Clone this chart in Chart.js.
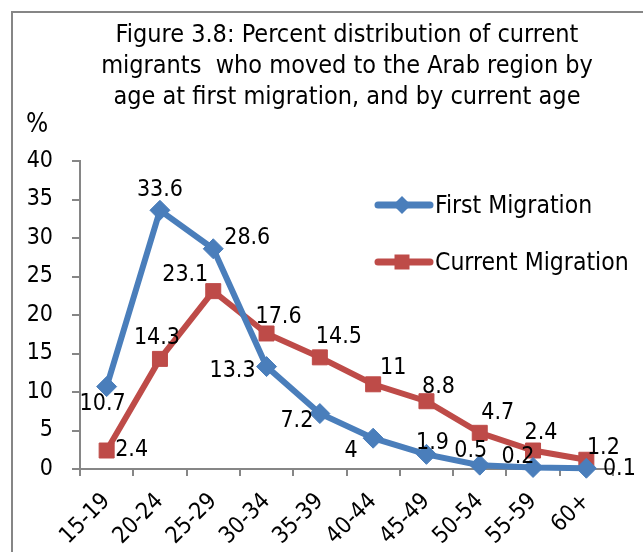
<!DOCTYPE html>
<html lang="en">
<head>
<meta charset="UTF-8" />
<title>Figure 3.8</title>
<script src="https://cdn.jsdelivr.net/npm/chart.js@4"></script>
<style>
  body { margin: 0; background: white; }
  .chart-box { position: relative; width: 643px; height: 552px; }
</style>
</head>
<body>
<div class="chart-box"><canvas id="chart"></canvas></div>
<script>
  const ageGroups = ["15-19", "20-24", "25-29", "30-34", "35-39", "40-44", "45-49", "50-54", "55-59", "60+"];
  const firstMigration = [10.7, 33.6, 28.6, 13.3, 7.2, 4, 1.9, 0.5, 0.2, 0.1];
  const currentMigration = [2.4, 14.3, 23.1, 17.6, 14.5, 11, 8.8, 4.7, 2.4, 1.2];
  const titleLines = [
    "Figure 3.8: Percent distribution of current",
    "migrants  who moved to the Arab region by",
    "age at first migration, and by current age"
  ];

  // where each value label sits relative to its point (dx, dy), like Excel placed them
  const firstLabelOffsets = [[-4, 17], [0, -20], [34, -11], [-34, 4], [-23, 7], [-22, 13], [6, -11], [-9, -14], [-15, -10], [33, 1]];
  const currentLabelOffsets = [[25, 0], [-3, -21], [-28, -16], [12, -16], [19, -20], [20, -16], [12, -14], [18, -20], [8, -17], [17, -12]];

  const FONT = '"DejaVu Sans Condensed", "DejaVu Sans", sans-serif';
  const BLUE = "#4A7EBB";
  const RED = "#BE4B48";
  const AXIS = "#868686";

  Chart.defaults.font.family = FONT;
  Chart.defaults.color = "#000";

  // frame, title, "%" label and legend
  const decorPlugin = {
    id: "decor",
    beforeDraw(chart) {
      const ctx = chart.ctx;
      ctx.save();
      ctx.fillStyle = "#fff";
      ctx.fillRect(0, 0, chart.width, chart.height);
      ctx.strokeStyle = AXIS;
      ctx.lineWidth = 2;
      ctx.strokeRect(12, 12, chart.width + 20, chart.height + 20);
      ctx.restore();
    },
    afterDraw(chart) {
      const ctx = chart.ctx;
      ctx.save();
      ctx.fillStyle = "#000";
      ctx.font = "25px " + FONT;
      ctx.textAlign = "center";
      ctx.textBaseline = "alphabetic";
      titleLines.forEach((line, i) => ctx.fillText(line, 347, 42 + i * 31));

      ctx.textAlign = "left";
      ctx.font = "26px " + FONT;
      ctx.fillText("%", 26, 132);

      // legend
      chart.data.datasets.forEach((ds, i) => {
        const y = 205 + i * 57;
        ctx.strokeStyle = ds.borderColor;
        ctx.lineWidth = 7;
        ctx.lineCap = "round";
        ctx.beginPath();
        ctx.moveTo(378, y);
        ctx.lineTo(430, y);
        ctx.stroke();
        ctx.fillStyle = ds.borderColor;
        ctx.beginPath();
        if (ds.pointStyle === "rectRot") {
          ctx.moveTo(402, y - 9);
          ctx.lineTo(411, y);
          ctx.lineTo(402, y + 9);
          ctx.lineTo(393, y);
          ctx.closePath();
        } else {
          ctx.rect(394.5, y - 7.5, 15, 15);
        }
        ctx.fill();
        ctx.fillStyle = "#000";
        ctx.font = "24.5px " + FONT;
        ctx.textBaseline = "alphabetic";
        ctx.fillText(ds.label, 435, y + 8);
      });
      ctx.restore();
    },
    afterDatasetsDraw(chart) {
      const ctx = chart.ctx;
      const offsets = [firstLabelOffsets, currentLabelOffsets];
      ctx.save();
      ctx.fillStyle = "#000";
      ctx.font = "23px " + FONT;
      ctx.textAlign = "center";
      ctx.textBaseline = "middle";
      chart.data.datasets.forEach((ds, i) => {
        chart.getDatasetMeta(i).data.forEach((pt, j) => {
          const [dx, dy] = offsets[i][j];
          ctx.fillText(String(ds.data[j]), pt.x + dx, pt.y + dy);
        });
      });
      ctx.restore();
    }
  };

  new Chart(document.getElementById("chart"), {
    type: "line",
    data: {
      labels: ageGroups,
      datasets: [
        {
          label: "First Migration",
          data: firstMigration,
          borderColor: BLUE,
          backgroundColor: BLUE,
          borderWidth: 6,
          pointStyle: "rectRot",
          pointRadius: 10,
          pointBorderWidth: 1,
          tension: 0,
          clip: false
        },
        {
          label: "Current Migration",
          data: currentMigration,
          borderColor: RED,
          backgroundColor: RED,
          borderWidth: 6,
          pointStyle: "rect",
          pointRadius: 10.6,
          pointBorderWidth: 1,
          tension: 0,
          clip: false
        }
      ]
    },
    options: {
      responsive: true,
      maintainAspectRatio: false,
      animation: false,
      layout: { padding: { top: 161, left: 0, right: 30, bottom: 0 } },
      plugins: {
        legend: { display: false },
        title: { display: false },
        tooltip: { enabled: false }
      },
      scales: {
        x: {
          type: "category",
          offset: true,
          grid: { offset: true, drawOnChartArea: false, color: AXIS, lineWidth: 2, tickLength: 7 },
          border: { color: AXIS, width: 2 },
          ticks: { minRotation: 45, maxRotation: 45, padding: 12, font: { size: 23 }, color: "#000" },
          afterFit(scale) { scale.height = 83; }
        },
        y: {
          min: 0,
          max: 40,
          grid: { drawOnChartArea: false, color: AXIS, lineWidth: 2, tickLength: 8 },
          border: { color: AXIS, width: 2 },
          ticks: { stepSize: 5, padding: 19, font: { size: 23 }, color: "#000" },
          afterFit(scale) { scale.width = 80; }
        }
      }
    },
    plugins: [decorPlugin]
  });
</script>
</body>
</html>
